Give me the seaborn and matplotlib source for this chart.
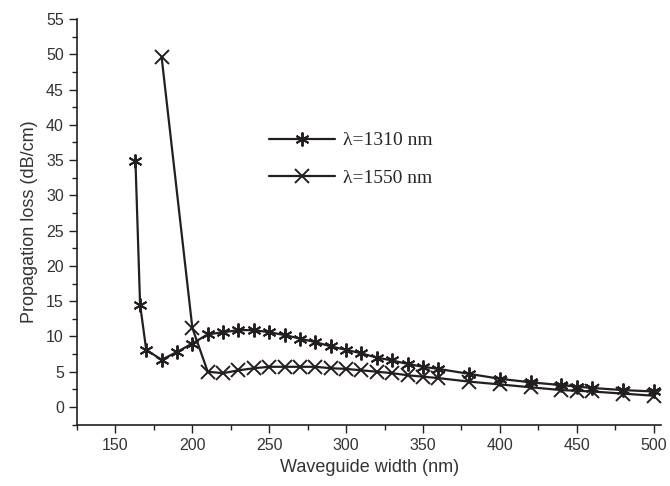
import matplotlib

matplotlib.use("Agg")
import matplotlib.pyplot as plt
import pandas as pd
import seaborn as sns
from matplotlib.ticker import MultipleLocator

# Waveguide width (nm) and propagation loss (dB/cm)
width_1310 = [163, 166, 170, 180, 190, 200, 210, 220, 230, 240, 250, 260, 270, 280, 290,
              300, 310, 320, 330, 340, 350, 360, 380, 400, 420, 440, 450, 460, 480, 500]
loss_1310 = [34.8, 14.5, 8.1, 6.7, 7.8, 9.0, 10.3, 10.6, 10.9, 10.9, 10.6, 10.2, 9.7, 9.2, 8.6,
             8.1, 7.6, 7.0, 6.6, 6.1, 5.7, 5.4, 4.7, 4.0, 3.5, 3.1, 2.9, 2.7, 2.4, 2.2]

width_1550 = [180, 200, 210, 220, 230, 240, 250, 260, 270, 280, 290, 300, 310,
              320, 330, 340, 350, 360, 380, 400, 420, 440, 450, 460, 480, 500]
loss_1550 = [49.6, 11.2, 5.0, 4.8, 5.2, 5.5, 5.7, 5.7, 5.7, 5.7, 5.5, 5.4, 5.2,
             5.0, 4.8, 4.5, 4.3, 4.1, 3.6, 3.2, 2.8, 2.4, 2.3, 2.2, 1.9, 1.6]

labels = ["\u03bb=1310 nm", "\u03bb=1550 nm"]
markers = [(6, 2, 0), "x"]

sns.set_style("ticks")
plt.rcParams["font.family"] = ["Liberation Sans", "DejaVu Sans"]
line_c = "#231f20"

fig = plt.figure(figsize=(6.7, 4.86), dpi=100)
ax = fig.add_axes([0.115, 0.1255, 0.872, 0.8355])

df1 = pd.DataFrame({"width": width_1310, "loss": loss_1310})
df2 = pd.DataFrame({"width": width_1550, "loss": loss_1550})
for df, lab, mk in zip([df1, df2], labels, markers):
    sns.lineplot(data=df, x="width", y="loss", ax=ax, color=line_c, linewidth=1.6,
                 marker=mk, markersize=10, markeredgewidth=1.4,
                 markeredgecolor=line_c, label=lab)

ax.set_xlim(125, 505)
ax.set_ylim(-2.55, 55)
ax.xaxis.set_minor_locator(MultipleLocator(25))
ax.yaxis.set_major_locator(MultipleLocator(5))
ax.yaxis.set_minor_locator(MultipleLocator(2.5))
ax.set_xticks(range(150, 501, 50))
ax.tick_params(which="major", direction="out", length=6, width=1, colors=line_c,
               labelsize=11.5, labelcolor="#333333")
ax.tick_params(which="minor", direction="out", length=3.5, width=1, colors=line_c)
for side in ["top", "right"]:
    ax.spines[side].set_visible(False)
for side in ["left", "bottom"]:
    ax.spines[side].set_color(line_c)
    ax.spines[side].set_linewidth(1.2)

ax.set_xlabel("Waveguide width (nm)", fontsize=13, color="#333333", labelpad=4)
ax.set_ylabel("Propagation loss (dB/cm)", fontsize=13, color="#333333", labelpad=6)

ax.legend(loc="upper left", bbox_to_anchor=(0.298, 0.765), frameon=False,
          prop={"family": "Liberation Serif", "size": 14}, handlelength=3.4,
          labelspacing=1.0, handletextpad=0.4)

fig.savefig("out.png", dpi=100)
plt.close(fig)
